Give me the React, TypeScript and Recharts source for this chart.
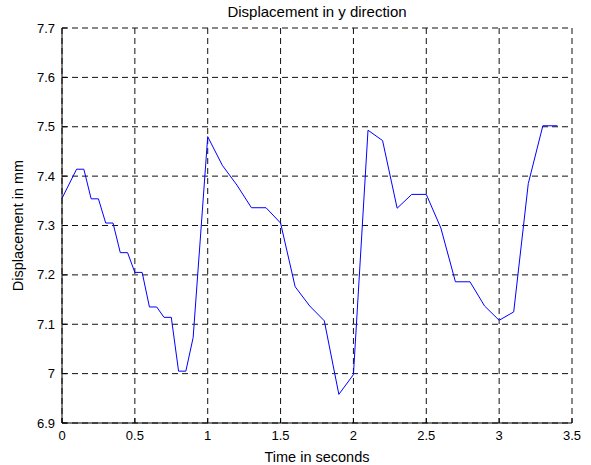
import { LineChart, Line, XAxis, YAxis, CartesianGrid, Label } from 'recharts';

// sample times (s) and displacement (mm)
const times = [
  0, 0.1, 0.15, 0.2, 0.25, 0.3, 0.35, 0.4, 0.45, 0.5, 0.55, 0.6, 0.65, 0.7, 0.75, 0.8, 0.85, 0.9,
  1.0, 1.1, 1.2, 1.3, 1.4, 1.5, 1.6, 1.7, 1.8, 1.9, 2.0, 2.1, 2.2, 2.3, 2.4, 2.5, 2.6, 2.7, 2.8,
  2.9, 3.0, 3.1, 3.2, 3.3, 3.4,
];
const displacement = [
  7.355, 7.414, 7.414, 7.354, 7.354, 7.305, 7.305, 7.245, 7.245, 7.205, 7.205, 7.135, 7.135, 7.114,
  7.114, 7.005, 7.005, 7.073, 7.48, 7.422, 7.382, 7.336, 7.336, 7.305, 7.176, 7.137, 7.107, 6.958,
  6.998, 7.493, 7.472, 7.335, 7.363, 7.363, 7.295, 7.186, 7.186, 7.137, 7.108, 7.125, 7.385, 7.502,
  7.502,
];
const xTicks = [0, 0.5, 1, 1.5, 2, 2.5, 3, 3.5];
const yTicks = [6.9, 7, 7.1, 7.2, 7.3, 7.4, 7.5, 7.6, 7.7];

const data = times.map((t, i) => ({ t, y: displacement[i] }));

const font = 'Liberation Sans, Arial, sans-serif';
const tickStyle = { fill: '#000', fontSize: 13, fontFamily: font };

export default function App() {
  return (
    <div style={{ position: 'absolute', left: 0, top: 0, width: 591, height: 465, background: '#fff' }}>
      <div
        style={{
          position: 'absolute',
          top: 3,
          left: 62,
          width: 510,
          textAlign: 'center',
          fontFamily: font,
          fontSize: 15,
          lineHeight: '18px',
          color: '#000',
        }}
      >
        Displacement in y direction
      </div>
      <LineChart width={591} height={465} data={data} margin={{ top: 28, right: 19, left: 0, bottom: 0 }}>
        <CartesianGrid stroke="#111" strokeDasharray="6 4" verticalValues={xTicks} horizontalValues={yTicks} />
        <XAxis
          dataKey="t"
          type="number"
          domain={[0, 3.5]}
          ticks={xTicks}
          height={42}
          stroke="#000"
          tickSize={-5}
          tickMargin={13}
          tick={tickStyle}
          interval={0}
        >
          <Label value="Time in seconds" position="insideBottom" offset={3} fill="#000" fontSize={14.5} fontFamily={font} />
        </XAxis>
        <XAxis
          xAxisId="top"
          orientation="top"
          type="number"
          domain={[0, 3.5]}
          ticks={xTicks}
          height={0}
          stroke="#000"
          tickSize={-5}
          tick={false}
        />
        <YAxis
          type="number"
          domain={[6.9, 7.7]}
          ticks={yTicks}
          width={62}
          stroke="#000"
          tickSize={-5}
          tickMargin={12}
          tick={tickStyle}
          interval={0}
        >
          <Label
            value="Displacement in mm"
            position="insideLeft"
            angle={-90}
            offset={18}
            fill="#000"
            fontSize={14.5}
            fontFamily={font}
            style={{ textAnchor: 'middle' }}
          />
        </YAxis>
        <YAxis
          yAxisId="right"
          orientation="right"
          type="number"
          domain={[6.9, 7.7]}
          ticks={yTicks}
          width={0}
          stroke="#000"
          tickSize={-5}
          tick={false}
        />
        <Line
          type="linear"
          dataKey="y"
          stroke="#0000ff"
          strokeWidth={1}
          dot={false}
          isAnimationActive={false}
        />
      </LineChart>
    </div>
  );
}
